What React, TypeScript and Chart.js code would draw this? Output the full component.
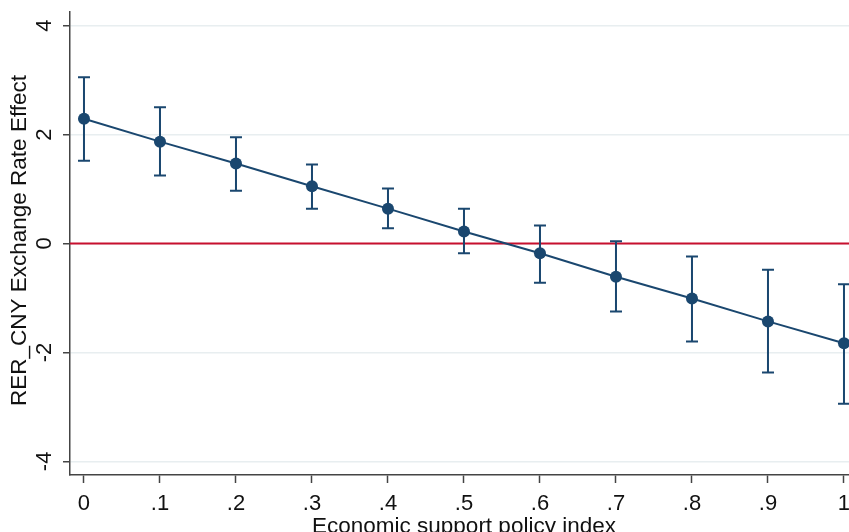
import React, { useEffect, useRef } from "react";
import { Chart, registerables } from "chart.js";

Chart.register(...registerables);

// ---- data ----
const xValues = [0, 0.1, 0.2, 0.3, 0.4, 0.5, 0.6, 0.7, 0.8, 0.9, 1.0];
const estimates = [2.29, 1.87, 1.47, 1.05, 0.64, 0.22, -0.18, -0.61, -1.01, -1.43, -1.83];
const ciUpper = [3.05, 2.5, 1.95, 1.45, 1.01, 0.64, 0.33, 0.04, -0.24, -0.48, -0.75];
const ciLower = [1.52, 1.25, 0.97, 0.64, 0.28, -0.18, -0.72, -1.25, -1.8, -2.37, -2.94];
const xTicks = [0, 0.1, 0.2, 0.3, 0.4, 0.5, 0.6, 0.7, 0.8, 0.9, 1.0];
const xTickLabels = ["0", ".1", ".2", ".3", ".4", ".5", ".6", ".7", ".8", ".9", "1"];
const yTicks = [-4, -2, 0, 2, 4];
const yTickLabels = ["-4", "-2", "0", "2", "4"];
const referenceLine = 0;
const xTitle = "Economic support policy index";
const yTitle = "RER_CNY Exchange Rate Effect";

const NAVY = "#1a476f";
const RED = "#c8102e";
const AXIS = "#444444";
const GRID = "#e8eef0";
const TEXT = "#111111";
const FONT = 'Arial, "Liberation Sans", sans-serif';
const FS_TICK = 22;
const FS_TITLE = 22.5;

const overlayPlugin = {
  id: "overlay",
  beforeDatasetsDraw(chart: any) {
    const { ctx, chartArea, scales } = chart;
    const xs = scales.x;
    const ys = scales.y;
    ctx.save();
    // reference line
    const ry = ys.getPixelForValue(referenceLine);
    ctx.strokeStyle = RED;
    ctx.lineWidth = 2;
    ctx.beginPath();
    ctx.moveTo(chartArea.left, ry);
    ctx.lineTo(chartArea.right, ry);
    ctx.stroke();
    // error bars
    ctx.strokeStyle = NAVY;
    ctx.lineWidth = 2;
    const cap = 6;
    xValues.forEach((xv, i) => {
      const px = xs.getPixelForValue(xv);
      const pt = ys.getPixelForValue(ciUpper[i]);
      const pb = ys.getPixelForValue(ciLower[i]);
      ctx.beginPath();
      ctx.moveTo(px, pt);
      ctx.lineTo(px, pb);
      ctx.moveTo(px - cap, pt);
      ctx.lineTo(px + cap, pt);
      ctx.moveTo(px - cap, pb);
      ctx.lineTo(px + cap, pb);
      ctx.stroke();
    });
    ctx.restore();
  },
  afterDraw(chart: any) {
    const { ctx, chartArea, scales } = chart;
    const xs = scales.x;
    const ys = scales.y;
    ctx.save();
    ctx.fillStyle = TEXT;
    ctx.font = `${FS_TICK}px ${FONT}`;
    // x tick labels
    ctx.textAlign = "center";
    ctx.textBaseline = "middle";
    xTicks.forEach((v, i) => {
      ctx.fillText(xTickLabels[i], xs.getPixelForValue(v), 504);
    });
    // y tick labels (rotated)
    yTicks.forEach((v, i) => {
      ctx.save();
      ctx.translate(45, ys.getPixelForValue(v));
      ctx.rotate(-Math.PI / 2);
      ctx.textAlign = "center";
      ctx.textBaseline = "middle";
      ctx.fillText(yTickLabels[i], 0, 0);
      ctx.restore();
    });
    // x title
    ctx.font = `${FS_TITLE}px ${FONT}`;
    ctx.textAlign = "center";
    ctx.textBaseline = "alphabetic";
    ctx.fillText(xTitle, xs.getPixelForValue(0.5), 533);
    // y title
    ctx.save();
    ctx.translate(20, (chartArea.top + chartArea.bottom) / 2 - 3);
    ctx.rotate(-Math.PI / 2);
    ctx.textAlign = "center";
    ctx.textBaseline = "middle";
    ctx.fillText(yTitle, 0, 0);
    ctx.restore();
    ctx.restore();
  },
};

export default function App() {
  const ref = useRef<HTMLCanvasElement | null>(null);
  useEffect(() => {
    if (!ref.current) return;
    const chart = new Chart(ref.current, {
      type: "line",
      data: {
        datasets: [
          {
            data: xValues.map((x, i) => ({ x, y: estimates[i] })),
            borderColor: NAVY,
            backgroundColor: NAVY,
            borderWidth: 2,
            pointRadius: 6,
            pointBorderWidth: 0,
            pointBackgroundColor: NAVY,
            tension: 0,
            clip: false as any,
          },
        ],
      },
      options: {
        responsive: false,
        animation: false,
        events: [],
        layout: { autoPadding: false, padding: { left: 0, right: 0, top: 12, bottom: 0 } },
        plugins: { legend: { display: false }, tooltip: { enabled: false } },
        scales: {
          x: {
            type: "linear",
            min: -0.0184,
            max: 1.0066,
            afterBuildTicks: (s: any) => {
              s.ticks = xTicks.map((v) => ({ value: v }));
            },
            afterFit: (s: any) => {
              s.height = 57;
            },
            ticks: { display: false },
            grid: {
              display: true,
              drawOnChartArea: false,
              drawTicks: true,
              tickLength: 8,
              tickColor: AXIS,
              tickWidth: 1.5,
              color: "transparent",
            },
            border: { display: true, color: AXIS, width: 1.5 },
          },
          y: {
            type: "linear",
            min: -4.25,
            max: 4.25,
            afterBuildTicks: (s: any) => {
              s.ticks = yTicks.map((v) => ({ value: v }));
            },
            afterFit: (s: any) => {
              s.width = 70;
            },
            ticks: { display: false },
            grid: {
              display: true,
              drawOnChartArea: true,
              drawTicks: true,
              tickLength: 7,
              tickColor: AXIS,
              tickWidth: 1.5,
              color: GRID,
              lineWidth: 1.5,
            },
            border: { display: true, color: AXIS, width: 1.5 },
          },
        },
      },
      plugins: [overlayPlugin],
    });
    return () => chart.destroy();
  }, []);
  return (
    <div style={{ position: "absolute", left: 0, top: 0, width: 849, height: 532, background: "#fff" }}>
      <canvas ref={ref} width={849} height={532} style={{ display: "block" }} />
    </div>
  );
}
